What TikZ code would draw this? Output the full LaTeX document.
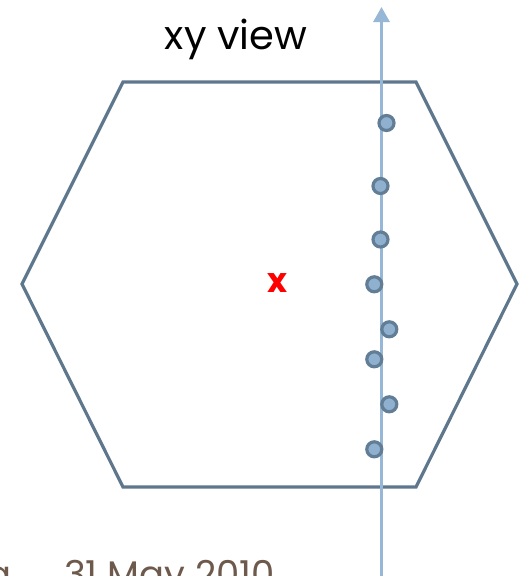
\documentclass[tikz,border=0pt]{standalone}
\usepackage{fontspec}
\setmainfont{Poppins}
\usetikzlibrary{arrows.meta}
\definecolor{hexc}{HTML}{5E778C}
\definecolor{axisc}{HTML}{96B8D6}
\definecolor{dotfill}{HTML}{8FB0CE}
\definecolor{dotline}{HTML}{627E96}
\definecolor{datec}{HTML}{6E5A4C}
\tikzset{
  hexline/.style={draw=hexc, line width=3.2pt, line join=miter},
  axisline/.style={draw=axisc, line width=3pt, -{Triangle[width=16pt,length=15pt]}},
  hitdot/.style={circle, draw=dotline, fill=dotfill, line width=3.2pt, minimum size=15pt, inner sep=0pt},
}
\begin{document}
\begin{tikzpicture}[x=1pt,y=-1pt]
\useasboundingbox (0,0) rectangle (519,576);
\coordinate (h1) at (123,82);
\coordinate (h2) at (416,82);
\coordinate (h3) at (517,284);
\coordinate (h4) at (416,487);
\coordinate (h5) at (123,487);
\coordinate (h6) at (22,284);
\draw[hexline] (h1) -- (h2) -- (h3) -- (h4) -- (h5) -- (h6) -- cycle;
\coordinate (abot) at (381.5,590);
\coordinate (atop) at (381.5,7);
\draw[axisline] (abot) -- (atop);
\node[hitdot] (d1) at (386.5,123) {};
\node[hitdot] (d2) at (380.5,186) {};
\node[hitdot] (d3) at (380.5,239.5) {};
\node[hitdot] (d4) at (374.3,284.3) {};
\node[hitdot] (d5) at (389.3,329.3) {};
\node[hitdot] (d6) at (374.3,359.3) {};
\node[hitdot] (d7) at (389.3,404.3) {};
\node[hitdot] (d8) at (374.3,449.3) {};
\node[font=\fontsize{40}{44}\selectfont] (title) at (236,39) {xy view};
\node[text=red, font=\fontsize{34}{38}\selectfont\bfseries] (cx) at (277,283) {x};
\node[text=datec, font=\fontsize{37}{42}\selectfont, anchor=base west, inner sep=0pt] (date) at (64,587) {31 May 2010};
\node[text=datec, font=\fontsize{37}{42}\selectfont, anchor=base east, inner sep=0pt] (lefta) at (12,587) {a};
\end{tikzpicture}
\end{document}
